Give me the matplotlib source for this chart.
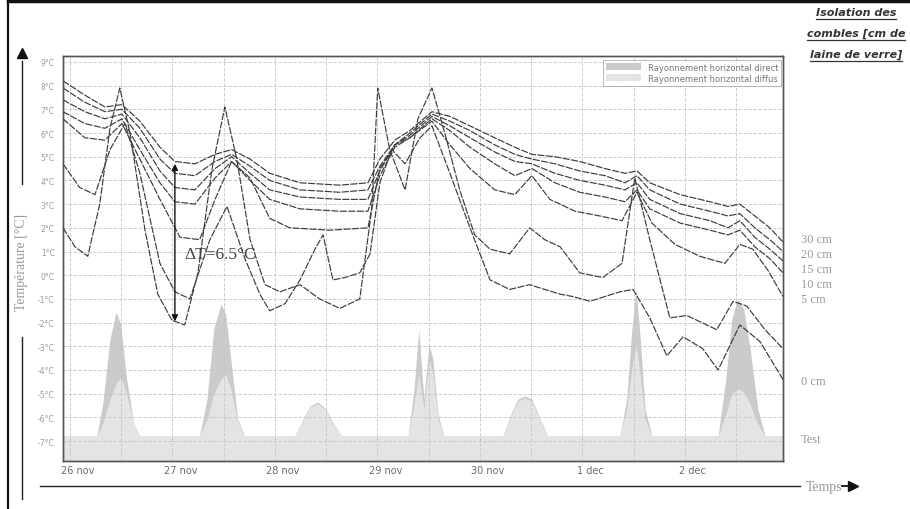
import matplotlib
matplotlib.use("Agg")
import matplotlib.pyplot as plt
from matplotlib.lines import Line2D
from matplotlib.patches import Patch
from matplotlib.transforms import ScaledTranslation

# ---------------- data ----------------
day_labels = ["26 nov", "27 nov", "28 nov", "29 nov", "30 nov", "1 dec", "2 dec"]
day_hours = [0, 24, 48, 72, 96, 120, 144]
temp_ticks = [9, 8, 7, 6, 5, 4, 3, 2, 1, 0, -1, -2, -3, -4, -5, -6, -7]
temp_tick_labels = [f"{v}°C" for v in temp_ticks]

series_names = ["30 cm", "20 cm", "15 cm", "10 cm", "5 cm", "0 cm", "Test"]

top_hours = [-1.6, 3.5, 8.2, 12.2, 16.4, 21.1, 24.6, 29.3, 34.0, 37.9, 42.2, 46.8,
             53.9, 63.2, 69.8, 72.6, 76.1, 79.6, 84.8, 89.0, 93.7, 99.5, 104.2,
             108.2, 113.6, 119.4, 125.3, 130.0, 132.8, 135.8, 142.9, 149.9, 154.1,
             156.9, 160.4, 163.9, 167.0]
t30 = [8.2, 7.6, 7.1, 7.2, 6.5, 5.4, 4.8, 4.7, 5.1, 5.3, 4.9, 4.3, 3.9, 3.8, 3.9,
       4.9, 5.7, 6.1, 6.9, 6.7, 6.3, 5.8, 5.4, 5.1, 5.0, 4.8, 4.5, 4.3, 4.4, 3.9,
       3.4, 3.1, 2.9, 3.0, 2.5, 2.0, 1.4]
t20 = [7.9, 7.3, 6.9, 7.0, 6.2, 4.9, 4.3, 4.2, 4.8, 5.1, 4.6, 4.0, 3.6, 3.5, 3.6,
       4.6, 5.5, 6.0, 6.8, 6.5, 6.1, 5.5, 5.1, 4.9, 4.7, 4.4, 4.2, 3.9, 4.2, 3.6,
       3.0, 2.7, 2.5, 2.6, 2.0, 1.5, 1.0]
t15 = [7.4, 6.9, 6.6, 6.8, 5.8, 4.4, 3.7, 3.6, 4.5, 5.0, 4.3, 3.6, 3.3, 3.2, 3.2,
       4.4, 5.5, 5.9, 6.7, 6.3, 5.8, 5.2, 4.8, 4.7, 4.3, 4.0, 3.8, 3.6, 3.9, 3.2,
       2.6, 2.3, 2.0, 2.3, 1.6, 1.1, 0.6]
t10 = [6.9, 6.4, 6.2, 6.6, 5.3, 3.9, 3.1, 3.0, 4.1, 4.8, 4.0, 3.2, 2.8, 2.7, 2.7,
       4.2, 5.4, 5.8, 6.6, 6.1, 5.4, 4.7, 4.2, 4.5, 3.9, 3.5, 3.3, 3.1, 3.6, 2.8,
       2.2, 1.9, 1.7, 1.9, 1.2, 0.7, 0.1]

h5 = [-1.6, 3.5, 8.2, 12.2, 16.4, 21.1, 25.8, 30.4, 34.0, 37.9, 42.2, 46.8, 51.5,
      60.9, 69.8, 72.6, 76.1, 79.6, 84.8, 89.0, 93.7, 99.5, 104.2, 108.2, 112.4,
      118.3, 124.1, 129.3, 132.8, 136.3, 141.7, 147.5, 153.4, 156.9, 159.9, 163.5, 167.0]
t5 = [6.6, 5.8, 5.7, 6.4, 4.9, 3.2, 1.6, 1.5, 3.2, 4.8, 4.1, 2.4, 2.0, 1.9, 2.0,
      4.5, 5.5, 5.8, 6.5, 5.5, 4.5, 3.6, 3.4, 4.2, 3.2, 2.7, 2.5, 2.3, 3.5, 2.2,
      1.3, 0.8, 0.5, 1.3, 1.1, 0.2, -0.9]

h0 = [-1.6, 2.3, 5.9, 9.4, 12.9, 16.4, 21.1, 24.6, 28.1, 32.8, 36.8, 41.0, 44.5,
      46.8, 50.4, 53.9, 57.4, 59.3, 61.6, 64.4, 67.9, 70.3, 72.6, 75.4, 78.5, 82.0,
      84.8, 89.0, 93.7, 98.4, 103.0, 107.7, 111.2, 114.8, 117.8, 121.8, 128.8,
      131.9, 135.8, 139.8, 143.6, 148.2, 151.8, 156.9, 161.6, 167.0]
t0 = [4.7, 3.7, 3.4, 5.3, 6.4, 4.3, 0.5, -0.7, -1.0, 1.5, 2.9, 0.7, -0.8, -1.5,
      -1.2, -0.2, 1.1, 1.7, -0.2, -0.1, 0.1, 0.9, 3.9, 5.3, 4.7, 5.8, 6.3, 4.3,
      2.0, -0.2, -0.6, -0.4, -0.6, -0.8, -0.9, -1.1, -0.7, -0.6, -1.8, -3.4, -2.6,
      -3.1, -4.0, -2.1, -2.8, -4.4]

hext = [-1.6, 1.2, 4.2, 7.0, 9.4, 11.7, 14.1, 17.6, 20.6, 23.9, 26.9, 30.0, 33.3,
        36.3, 39.1, 42.2, 45.7, 49.2, 53.9, 58.5, 63.2, 67.9, 70.7, 72.1, 74.9,
        78.5, 81.5, 84.8, 87.8, 91.3, 94.8, 98.4, 103.0, 107.7, 111.2, 114.8,
        119.4, 124.8, 129.3, 132.3, 135.8, 140.5, 144.5, 151.5, 155.3, 158.5,
        162.8, 167.0]
text_ = [2.0, 1.2, 0.8, 3.0, 6.2, 7.9, 6.0, 1.9, -0.8, -1.9, -2.1, 0.1, 4.5, 7.1,
         4.9, 1.5, -0.4, -0.7, -0.4, -1.0, -1.4, -1.0, 2.8, 7.9, 5.3, 3.6, 6.6,
         7.9, 6.0, 3.6, 1.7, 1.1, 0.9, 2.0, 1.5, 1.2, 0.1, -0.1, 0.5, 4.1, 1.5,
         -1.8, -1.7, -2.3, -1.1, -1.3, -2.3, -3.1]

rad_hours = [-1.6,
             6.3, 7.7, 9.4, 10.8, 11.9, 13.3, 15.0, 16.4,
             30.4, 32.1, 33.7, 35.4, 36.5, 37.7, 39.3, 41.0,
             52.7, 54.6, 56.2, 58.1, 60.0, 61.8, 63.7,
             79.2, 80.6, 81.7, 82.9, 84.1, 85.0, 86.2, 87.6,
             101.4, 103.3, 104.9, 106.6, 108.2, 110.1, 111.9,
             128.8, 130.4, 131.6, 132.6, 133.5, 134.7, 136.3,
             151.8, 153.6, 155.0, 156.4, 157.8, 159.3, 161.1, 162.8,
             167.0]
rad_direct = [0,
              0, 128, 388, 496, 448, 228, 48, 0,
              0, 148, 428, 528, 488, 308, 68, 0,
              0, 68, 120, 136, 108, 48, 0,
              0, 188, 428, 148, 368, 308, 88, 0,
              0, 88, 148, 160, 148, 68, 0,
              0, 148, 428, 588, 408, 108, 0,
              0, 228, 468, 548, 508, 348, 108, 0,
              0]
rad_diffuse = [0,
               0, 48, 148, 208, 236, 168, 48, 0,
               0, 68, 168, 228, 248, 188, 60, 0,
               0, 64, 116, 130, 104, 44, 0,
               0, 128, 248, 108, 308, 248, 68, 0,
               0, 80, 140, 152, 140, 60, 0,
               0, 108, 268, 368, 248, 68, 0,
               0, 88, 168, 188, 176, 128, 48, 0,
               0]

legend_labels = ["Rayonnement horizontal direct", "Rayonnement horizontal diffus"]
title_lines = ["Isolation des", "combles [cm de", "laine de verre]"]

# ---------------- layout ----------------
W, H = 910, 510
def fx(px):
    return px / W
def fy(py):
    return 1 - py / H

fig = plt.figure(figsize=(W / 100, H / 100), dpi=100)
fig.patch.set_facecolor("white")

ax_r = fig.add_axes([fx(63), fy(462), fx(783) - fx(63), fy(57) - fy(462)])
ax = ax_r.twinx()

xmin, xmax = -1.6, 167.0
ax_r.set_xlim(xmin, xmax)
ax_r.set_ylim(-100, 1520)

# radiation areas
c_dir, c_dif = "#cbcbcb", "#e4e4e4"
ax_r.fill_between(rad_hours, -100, rad_direct, color=c_dir, lw=0, zorder=1)
ax_r.fill_between(rad_hours, -100, rad_diffuse, color=c_dif, lw=0, zorder=2)
ax_r.set_yticks([])

# temperature curves
ax.set_ylim(-7.84, 9.25)
line_kw = dict(color="#3c3c3c", lw=0.85, ls=(0, (6, 1.2)), zorder=5)
curves = [(top_hours, t30), (top_hours, t20), (top_hours, t15), (top_hours, t10),
          (h5, t5), (h0, t0), (hext, text_)]
for (hx, ty), name in zip(curves, series_names):
    ax.plot(hx, ty, label=name, **line_kw)
ax_r.set_xlim(xmin, xmax)

# grid
grid_kw = dict(color="#c4c4c4", lw=0.6, ls=(0, (4, 2)))
for v in temp_ticks:
    ax.axhline(v, zorder=0.5, **grid_kw)
for d in range(-1, 7):
    ax.axvline(d * 24 + 12, zorder=0.5, **grid_kw)
    if d >= 0:
        ax.axvline(d * 24, zorder=0.5, **grid_kw)

# ticks
ax.yaxis.set_ticks_position("left")
ax.set_yticks(temp_ticks)
ax.set_yticklabels(temp_tick_labels)
ax.tick_params(axis="y", length=0, pad=6, labelsize=5.5, labelcolor="#9a9a9a")
ax_r.set_xticks(day_hours)
ax_r.set_xticklabels(day_labels)
ax_r.tick_params(axis="x", length=0, pad=3, labelsize=7, labelcolor="#6a6a6a")
offset = ScaledTranslation(8 / 100, 0, fig.dpi_scale_trans)
for lab in ax_r.get_xticklabels():
    lab.set_transform(lab.get_transform() + offset)

for a in (ax, ax_r):
    for s in a.spines.values():
        s.set_color("#555555")
        s.set_linewidth(1.0)

# legend
handles = [Patch(facecolor=c_dir, edgecolor="none"), Patch(facecolor=c_dif, edgecolor="none")]
leg = ax.legend(handles, legend_labels, loc="upper right", bbox_to_anchor=(1.0, 0.995),
                fontsize=6, frameon=True, handlelength=4.2, handleheight=0.9,
                borderpad=0.35, labelspacing=0.25, handletextpad=0.8, borderaxespad=0.2)
leg.get_frame().set_edgecolor("#9a9a9a")
leg.get_frame().set_linewidth(0.6)
leg.get_frame().set_boxstyle("square", pad=0)
for t in leg.get_texts():
    t.set_color("#777777")

# delta T annotation
ax.annotate("", xy=(24.6, -1.95), xytext=(24.6, 4.7),
            arrowprops=dict(arrowstyle="<|-|>", color="#111111", lw=1.0,
                            mutation_scale=9, shrinkA=0, shrinkB=0), zorder=6)
ax.text(26.9, 0.9, "ΔT=6.5°C", fontsize=12.5, family="Liberation Serif",
        color="#444444", va="center", ha="left", zorder=6)

# right-side series labels
label_py = [240, 255, 270, 285, 300, 382, 440]
for name, py in zip(series_names, label_py):
    fig.text(fx(801), fy(py), name, fontsize=9, family="Liberation Serif",
             color="#9a9a9a", va="center", ha="left")

# axis labels with arrows
fig.text(fx(22), fy(262), "Température [°C]", rotation=90, fontsize=10,
         family="Liberation Serif", color="#9a9a9a", va="center", ha="center")
fig.add_artist(Line2D([fx(22), fx(22)], [fy(338), fy(500)], color="#222222", lw=1.0))
fig.add_artist(Line2D([fx(22), fx(22)], [fy(185), fy(62)], color="#222222", lw=1.0))
fig.add_artist(Line2D([fx(22)], [fy(54)], marker="^", markersize=7,
                      color="#111111", ls="none"))

fig.add_artist(Line2D([fx(40), fx(800)], [fy(487), fy(487)], color="#222222", lw=1.0))
fig.text(fx(806), fy(487), "Temps", fontsize=10, family="Liberation Serif",
         color="#9a9a9a", va="center", ha="left")
fig.add_artist(Line2D([fx(842), fx(852)], [fy(487), fy(487)], color="#111111", lw=1.3))
fig.add_artist(Line2D([fx(853)], [fy(487)], marker=">", markersize=7,
                      color="#111111", ls="none"))

# outer frame lines
fig.add_artist(Line2D([fx(8), fx(8)], [0, 1], color="#111111", lw=1.6))
fig.add_artist(Line2D([fx(8), 1], [fy(1.5), fy(1.5)], color="#111111", lw=2.5))

# underlined title
title_py = [13, 34, 55]
title_texts = []
for s, py in zip(title_lines, title_py):
    t = fig.text(fx(856), fy(py), s, fontsize=8, style="italic", fontweight="bold",
                 family="DejaVu Sans", color="#333333", ha="center", va="center")
    title_texts.append(t)
fig.canvas.draw()
renderer = fig.canvas.get_renderer()
for t in title_texts:
    bb = t.get_window_extent(renderer)
    y = bb.y0 - 1.5
    fig.add_artist(Line2D([bb.x0 / W, bb.x1 / W], [y / H, y / H], color="#333333", lw=0.9))

fig.savefig("out.png", dpi=100, facecolor="white")
